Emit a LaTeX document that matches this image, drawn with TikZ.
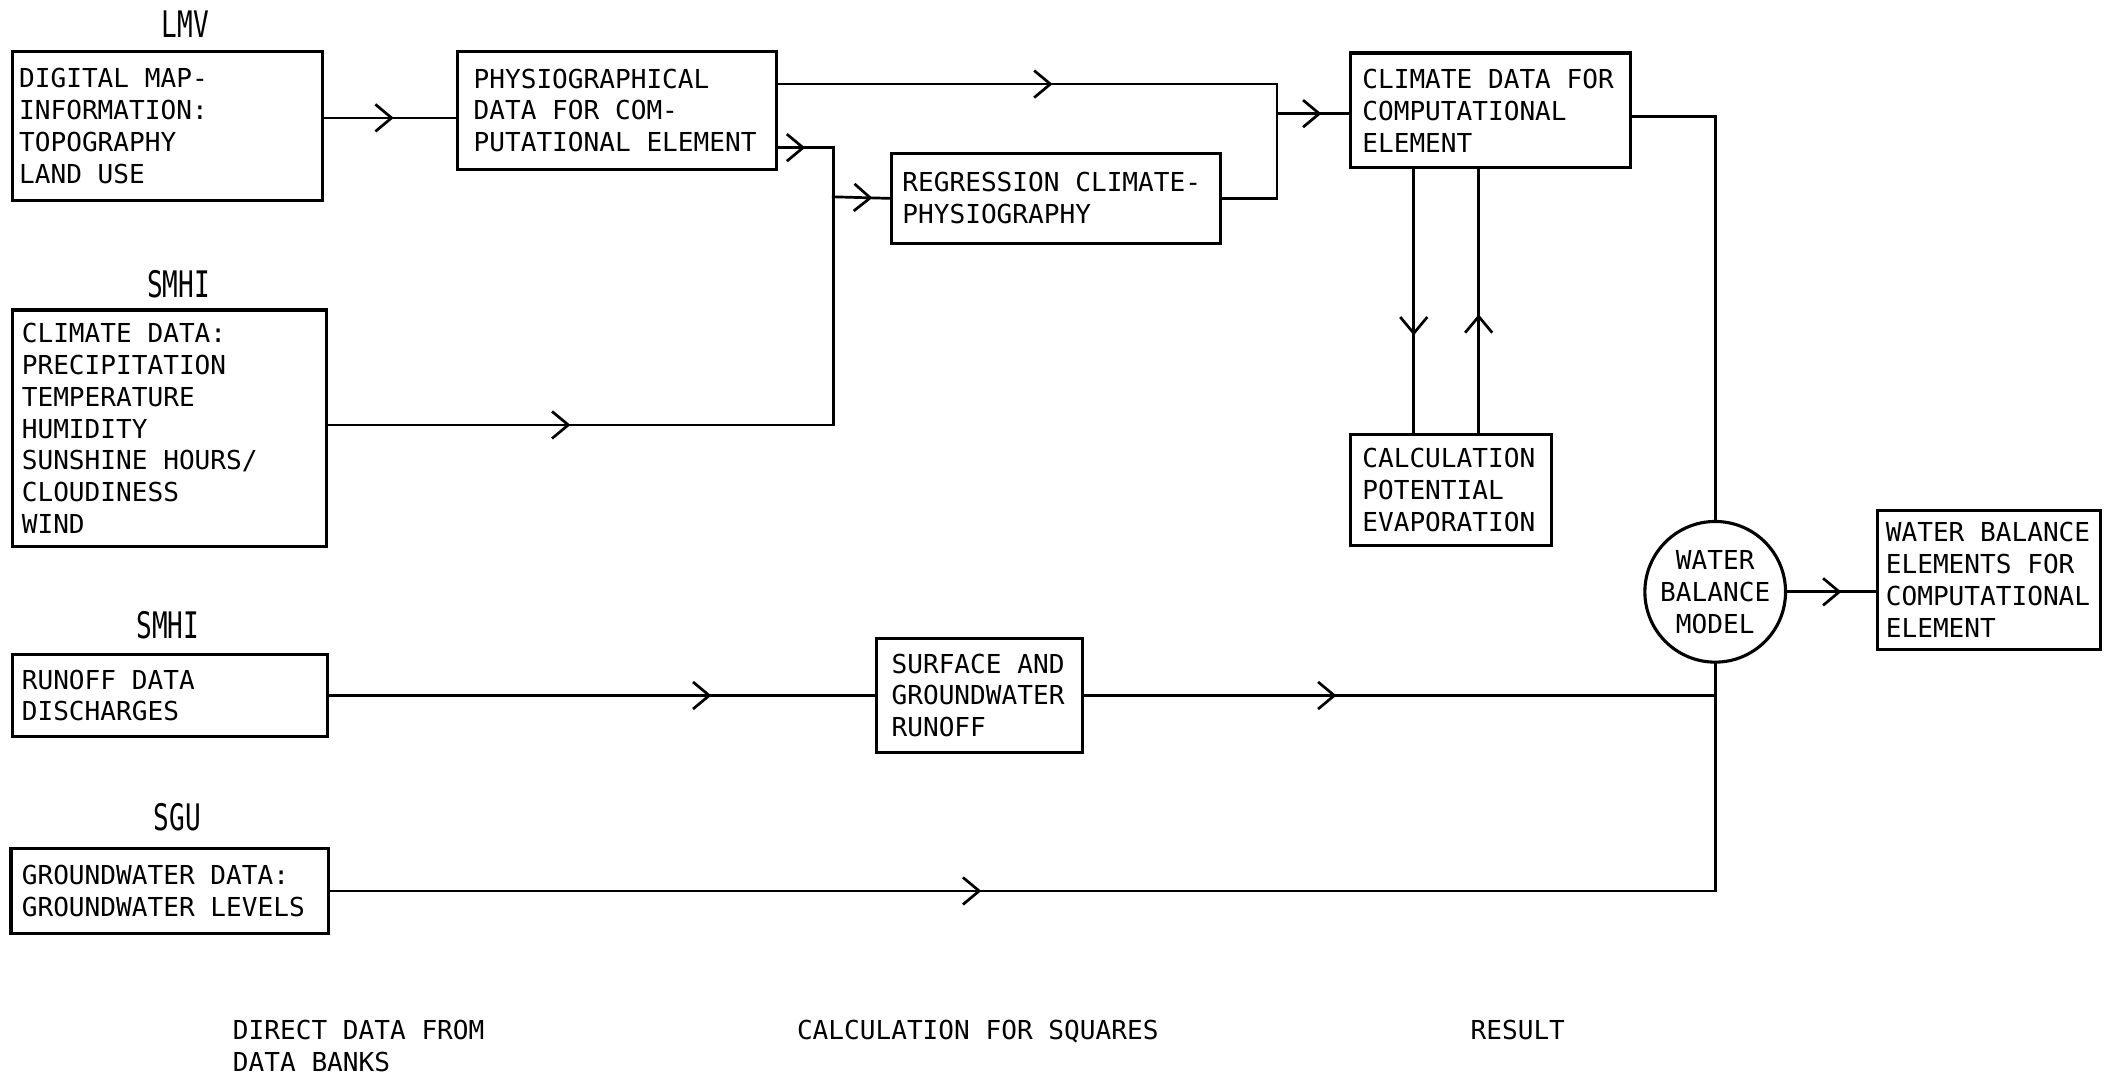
\documentclass[tikz,border=0pt]{standalone}
\usepackage{fontspec}
\usepackage{graphicx}
\newfontfamily\machine[WordSpace={1,0,0}]{DejaVu Sans Mono}
\usetikzlibrary{arrows.meta,decorations.markings}
\begin{document}
\begin{tikzpicture}[x=1pt,y=-1pt,
	boite/.style={draw, line width=2.3pt, anchor=north west, align=left, inner ysep=0pt, font=\machine\fontsize{19.3}{23.6}\selectfont, execute at begin node={\spaceskip=0.602em\xspaceskip=0.602em\relax}},
	rond/.style={draw, circle, line width=2.3pt, minimum size=104pt, inner sep=0pt, align=center, font=\machine\fontsize{19.3}{23.6}\selectfont},
	source/.style={inner sep=0pt, font=\machine\fontsize{19.3}{23.6}\selectfont},
	legende/.style={anchor=north west, align=left, inner sep=0pt, font=\machine\fontsize{19.3}{23.6}\selectfont},
	trait/.style={line width=2pt, line cap=rect},
	fleche/.style={trait, postaction={decorate}, decoration={markings, mark=at position #1 with {\arrow{Straight Barb[length=12pt, width=20pt, line width=2pt]}}}}]
	\useasboundingbox (0,0) rectangle (1568,796);
	%banques de donnees
	\node[source] (lmv) at (137,18) {\scalebox{1}[1.4]{LMV}};
	\node[boite, text width=219pt, inner xsep=5pt, minimum height=110pt] (dmap) at (8,37) {DIGITAL MAP-\\INFORMATION:\\TOPOGRAPHY\\LAND USE};
	\node[source] (smhia) at (132,210) {\scalebox{1}[1.4]{SMHI}};
	\node[boite, text width=218pt, inner xsep=7pt, minimum height=175pt] (cdata) at (8,228) {CLIMATE DATA:\\PRECIPITATION\\TEMPERATURE\\HUMIDITY\\SUNSHINE HOURS/\\CLOUDINESS\\WIND};
	\node[source] (smhib) at (124,462) {\scalebox{1}[1.4]{SMHI}};
	\node[boite, text width=219pt, inner xsep=7pt, minimum height=60pt] (runoff) at (8,483) {RUNOFF DATA\\DISCHARGES};
	\node[source] (sgu) at (131,604) {\scalebox{1}[1.4]{SGU}};
	\node[boite, text width=219pt, inner xsep=8pt, minimum height=63pt] (gwater) at (7,626) {GROUNDWATER DATA:\\GROUNDWATER LEVELS};
	%fin
	%calculs
	\node[boite, text width=212pt, inner xsep=12pt, minimum height=87pt] (phys) at (337,37) {PHYSIOGRAPHICAL\\DATA FOR COM-\\PUTATIONAL ELEMENT};
	\node[boite, text width=227pt, inner xsep=8pt, minimum height=67pt] (regr) at (658,112) {REGRESSION CLIMATE-\\PHYSIOGRAPHY};
	\node[boite, text width=130pt, inner xsep=11pt, minimum height=84pt] (surf) at (647,471) {SURFACE AND\\GROUNDWATER\\RUNOFF};
	\node[boite, text width=189pt, inner xsep=9pt, minimum height=85pt] (clim) at (997,38) {CLIMATE DATA FOR\\COMPUTATIONAL\\ELEMENT};
	\node[boite, text width=131pt, inner xsep=9pt, minimum height=82pt] (evap) at (997,320) {CALCULATION\\POTENTIAL\\EVAPORATION};
	%fin
	%resultat
	\node[rond] (wbm) at (1268,437.5) {WATER\\BALANCE\\MODEL};
	\node[boite, text width=153pt, inner xsep=6pt, minimum height=103pt] (result) at (1387,376) {WATER BALANCE\\ELEMENTS FOR\\COMPUTATIONAL\\ELEMENT};
	%fin
	%liaisons
	\coordinate (a1) at ([yshift=6pt]dmap.east);
	\coordinate (b1) at ([yshift=19.5pt]phys.east);
	\coordinate (b2) at ([yshift=-27.5pt]phys.east);
	\coordinate (c1) at ([yshift=2.5pt]cdata.east);
	\coordinate (d1) at ([yshift=-4.5pt]clim.east);
	\coordinate (ja) at (944,84); %vers climat
	\coordinate (jb) at (616,145.5); %vers regression
	\coordinate (e1) at ([xshift=-27.5pt]evap.north);
	\coordinate (e2) at ([xshift=20.5pt]evap.north);
	\draw[fleche=0.53] (a1) -- (a1 -| phys.west);
	\draw[fleche=0.55] (b1) -- (b1 -| ja);
	\draw[trait] (b1 -| ja) -- (regr.east -| ja) -- (regr.east);
	\draw[fleche=0.62] (ja) -- (ja -| clim.west);
	\draw[fleche=0.49] (b2) -- (b2 -| jb);
	\draw[trait] (b2 -| jb) -- (c1 -| jb);
	\draw[fleche=0.48] (c1) -- (c1 -| jb);
	\draw[fleche=0.69] (jb) -- (regr.west);
	\draw[trait] (d1) -- (d1 -| wbm) -- (wbm.north);
	\draw[fleche=0.63] (e1 |- clim.south) -- (e1);
	\draw[fleche=0.45] (e2) -- (e2 |- clim.south);
	\draw[fleche=0.7] (runoff.east) -- (runoff.east -| surf.west);
	\draw[fleche=0.4] (surf.east) -- (surf.east -| wbm);
	\draw[fleche=0.47] (gwater.east) -- (gwater.east -| wbm);
	\draw[trait] (gwater.east -| wbm) -- (wbm.south);
	\draw[fleche=0.61] (wbm.east) -- (wbm.east -| result.west);
	%fin
	%legendes
	\node[legende] (direct) at (172,754) {DIRECT DATA FROM\\DATA BANKS};
	\node[legende] (calcul) at (589,754) {CALCULATION FOR SQUARES};
	\node[legende] (resultat) at (1087,754) {RESULT};
\end{tikzpicture}
\end{document}
